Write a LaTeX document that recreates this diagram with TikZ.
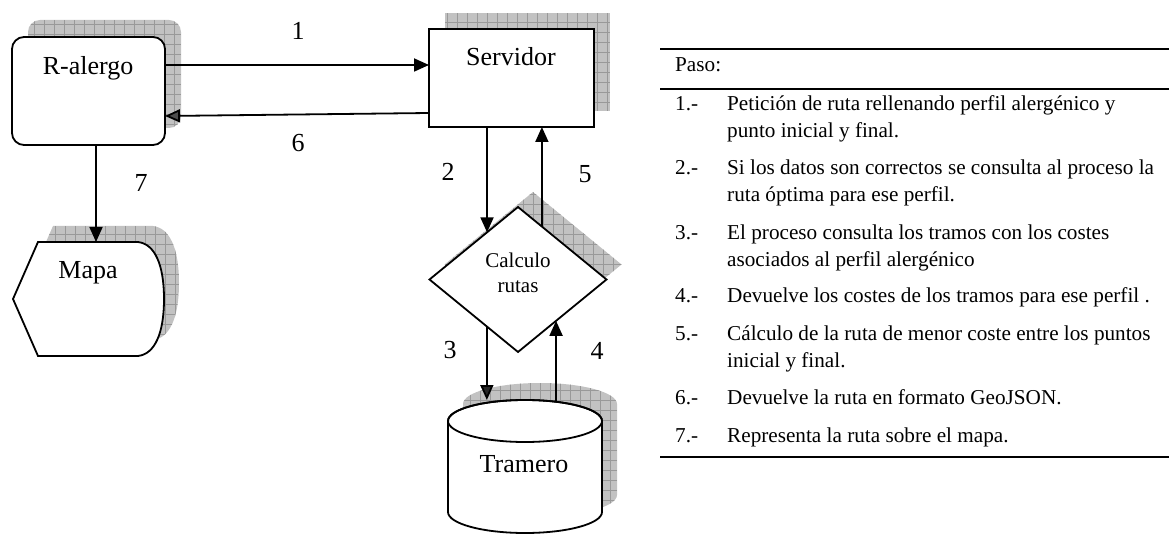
\documentclass[tikz,border=0pt]{standalone}
\usepackage{fontspec}
\setmainfont{Liberation Serif}
\usetikzlibrary{arrows.meta,calc,shapes.geometric}
\begin{document}
\begin{tikzpicture}[x=1pt,y=-1pt,
  shadowfill/.style={fill=black!24, draw=none, inner sep=0pt, outer sep=0pt,
    path picture={\draw[black!40,line width=0.6pt] (path picture bounding box.south west) grid[step=10pt] (path picture bounding box.north east);}},
  box/.style={draw, line width=1.8pt, fill=white, inner sep=0pt, outer sep=0pt},
  arr/.style={line width=1.8pt, -{Triangle[length=15pt,width=13pt]}},
  arrgray/.style={line width=1.8pt, -{Triangle[length=15pt,width=13pt,fill=black!70]}},
  arrdark/.style={line width=1.8pt, -{Triangle[length=15pt,width=13pt,fill=black!85]}},
  big/.style={font=\fontsize{26pt}{30pt}\selectfont, inner sep=0pt, anchor=base},
  mid/.style={font=\fontsize{21pt}{25pt}\selectfont, inner sep=0pt, anchor=base},
  tab/.style={font=\fontsize{21.2pt}{25pt}\selectfont, inner sep=0pt, anchor=base west},
  rule/.style={line width=2pt}
]
\useasboundingbox (0,0) rectangle (1169,534);

% ---------- shadows ----------
\node[shadowfill, rounded corners=12pt, minimum width=153pt, minimum height=108pt, anchor=north west] (ralsh) at (28,20) {};
\node[shadowfill, minimum width=165pt, minimum height=98pt, anchor=north west] (servsh) at (445,13) {};
\path[shadowfill, shift={(15,-16)}] (38,242) -- (138,242) .. controls (155,244) and (164,265) .. (164,299) .. controls (164,333) and (155,354) .. (138,356) -- (38,356) -- (13,299) -- cycle;
\node[shadowfill, diamond, minimum width=177pt, minimum height=145pt] (diash) at (533,264.5) {};
\path[shadowfill] (463,404) -- (463,495) arc[start angle=180,end angle=0,x radius=77,y radius=21] -- (617,404) arc[start angle=0,end angle=-180,x radius=77,y radius=21] -- cycle;

% ---------- shapes ----------
\node[box, rounded corners=12pt, minimum width=153pt, minimum height=108pt, anchor=north west] (ral) at (12,37) {};
\node[box, minimum width=165pt, minimum height=98pt, anchor=north west] (serv) at (429,29) {};
\filldraw[line width=1.8pt, fill=white] (38,242) -- (138,242) .. controls (155,244) and (164,265) .. (164,299) .. controls (164,333) and (155,354) .. (138,356) -- (38,356) -- (13,299) -- cycle;
\node[box, diamond, minimum width=177pt, minimum height=145pt] (dia) at (518,279.5) {};
\filldraw[line width=1.8pt, fill=white] (448,421) -- (448,512) arc[start angle=180,end angle=0,x radius=77,y radius=21] -- (602,421) arc[start angle=0,end angle=-180,x radius=77,y radius=21] -- cycle;
\draw[line width=1.8pt] (525,421) ellipse[x radius=77, y radius=21];

% ---------- shape texts ----------
\node[big] (ralt) at (88,75) {R-alergo};
\node[big] (servt) at (511,66) {Servidor};
\node[big] (mapat) at (88,279) {Mapa};
\node[mid] (diat1) at (518,268) {Calculo};
\node[mid] (diat2) at (518,293) {rutas};
\node[big] (tramt) at (524,472) {Tramero};

% ---------- connectors ----------
\coordinate (y1) at (0,65);
\coordinate (y6a) at (0,113);
\coordinate (y6b) at (0,116);
\coordinate (mapatop) at (96,242);
\coordinate (cyltop3) at (0,400);
\coordinate (cyltop4) at (0,402);
\coordinate (p2) at ($(dia.north)!0.35!(dia.west)$);
\coordinate (p5) at ($(dia.north)!0.27!(dia.east)$);
\coordinate (p3) at ($(dia.west)!0.648!(dia.south)$);
\coordinate (p4) at ($(dia.east)!0.57!(dia.south)$);

\draw[arr] (ral.east |- y1) -- (serv.west |- y1);
\draw[arrgray] (serv.west |- y6a) -- (ral.east |- y6b);
\draw[arr] (ral.south -| mapatop) -- (mapatop);
\draw[arr] (serv.south -| p2) -- (p2);
\draw[arr] (p5) -- (serv.south -| p5);
\draw[arrdark] (p3) -- (p3 |- cyltop3);
\draw[arr] (p4 |- cyltop4) -- (p4);

% ---------- connector labels ----------
\node[big] (l1) at (298,40) {1};
\node[big] (l6) at (298,152) {6};
\node[big] (l7) at (141,192) {7};
\node[big] (l2) at (448,181) {2};
\node[big] (l5) at (585,183) {5};
\node[big] (l3) at (450,358) {3};
\node[big] (l4) at (597,359) {4};

% ---------- table ----------
\coordinate (tl) at (660,49);
\coordinate (tr) at (1169,49);
\draw[rule] (tl) -- (tr);
\draw[rule] ([yshift=-40pt]tl) -- ([yshift=-40pt]tr);
\draw[rule] ([yshift=-408pt]tl) -- ([yshift=-408pt]tr);
\node[tab] (paso) at (675,72) {Paso:};

\node[tab] (n1) at (675,111) {1.-};
\node[tab] (t1a) at (727,111) {Petición de ruta rellenando perfil alergénico y};
\node[tab] (t1b) at (727,138) {punto inicial y final.};
\node[tab] (n2) at (675,175) {2.-};
\node[tab] (t2a) at (727,175) {Si los datos son correctos se consulta al proceso la};
\node[tab] (t2b) at (727,202) {ruta óptima para ese perfil.};
\node[tab] (n3) at (675,240) {3.-};
\node[tab] (t3a) at (727,240) {El proceso consulta los tramos con los costes};
\node[tab] (t3b) at (727,267) {asociados al perfil alergénico};
\node[tab] (n4) at (675,303) {4.-};
\node[tab] (t4a) at (727,303) {Devuelve los costes de los tramos para ese perfil .};
\node[tab] (n5) at (675,340) {5.-};
\node[tab] (t5a) at (727,340) {Cálculo de la ruta de menor coste entre los puntos};
\node[tab] (t5b) at (727,367) {inicial y final.};
\node[tab] (n6) at (675,404) {6.-};
\node[tab] (t6a) at (727,404) {Devuelve la ruta en formato GeoJSON.};
\node[tab] (n7) at (675,442) {7.-};
\node[tab] (t7a) at (727,442) {Representa la ruta sobre el mapa.};
\end{tikzpicture}
\end{document}
